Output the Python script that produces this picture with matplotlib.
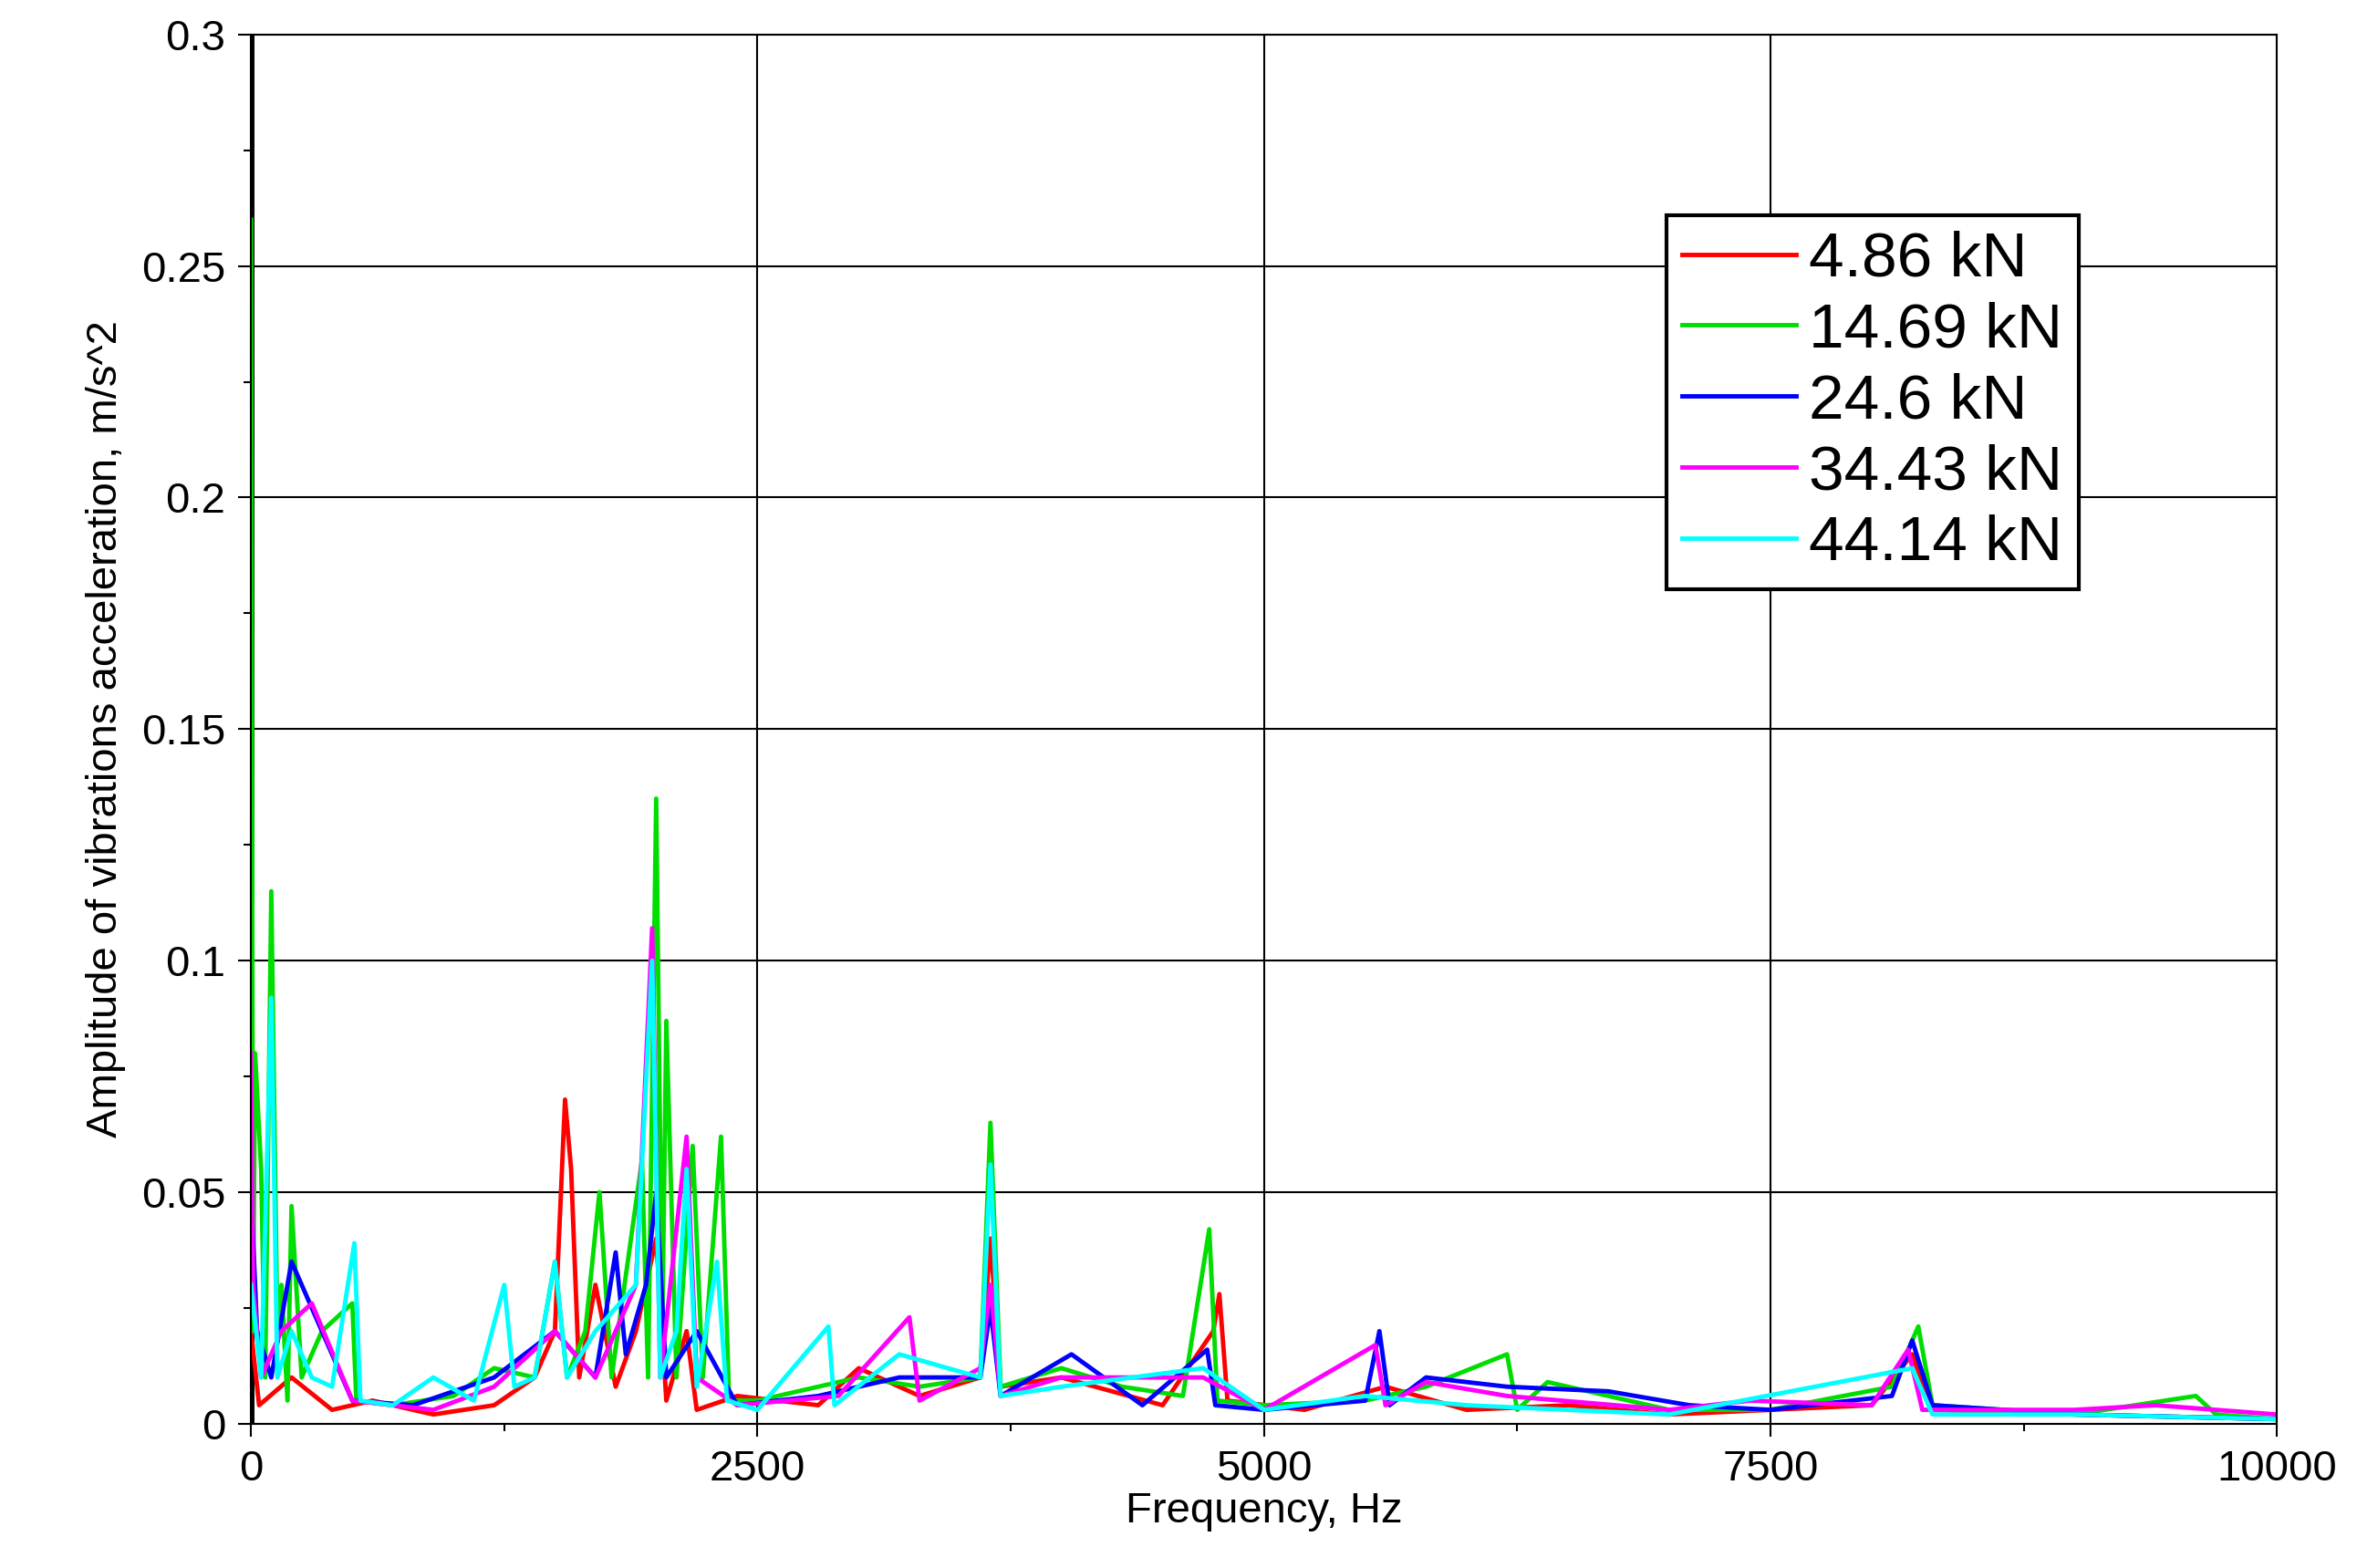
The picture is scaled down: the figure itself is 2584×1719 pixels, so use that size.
import numpy as np
import matplotlib.pyplot as plt
from matplotlib.ticker import MultipleLocator

plt.rcParams['font.family'] = ['Liberation Sans', 'DejaVu Sans']

# spectra (frequency Hz, amplitude m/s^2)
f_red = [0, 40, 200, 400, 600, 900, 1200, 1400, 1500, 1550, 1580, 1620, 1700, 1800, 1900, 2000, 2050, 2150, 2200, 2400,
         2800, 3000, 3300, 3600, 3650, 3700, 4000, 4500, 4750, 4780, 4820, 5200, 5600, 6000, 6500, 7000, 7500, 8000, 8200, 8300, 9000, 10000]
a_red = [0.02, 0.004, 0.01, 0.003, 0.005, 0.002, 0.004, 0.01, 0.02, 0.07, 0.055, 0.01, 0.03, 0.008, 0.02, 0.04, 0.005, 0.02, 0.003, 0.006,
         0.004, 0.012, 0.006, 0.01, 0.04, 0.008, 0.01, 0.004, 0.02, 0.028, 0.005, 0.003, 0.008, 0.003, 0.004, 0.002, 0.003, 0.004, 0.015, 0.003, 0.002, 0.001]

f_green = [0, 10, 20, 50, 70, 100, 130, 150, 180, 200, 250, 350, 500, 520, 700, 1000, 1200, 1400, 1500, 1560, 1650, 1720, 1780, 1930, 1960, 2000,
           2030, 2050, 2100, 2180, 2230, 2320, 2360, 2500, 3000, 3300, 3600, 3650, 3700, 4000, 4300, 4600, 4730, 4770, 5000, 5500, 5800, 6200, 6250,
           6400, 7000, 7500, 8100, 8230, 8300, 9000, 9600, 9700, 10000]
a_green = [0.26, 0.02, 0.08, 0.055, 0.01, 0.115, 0.02, 0.03, 0.005, 0.047, 0.01, 0.02, 0.026, 0.005, 0.004, 0.006, 0.012, 0.01, 0.035, 0.01, 0.02, 0.05, 0.01, 0.057, 0.01, 0.135,
            0.02, 0.087, 0.01, 0.06, 0.01, 0.062, 0.005, 0.005, 0.01, 0.008, 0.01, 0.065, 0.008, 0.012, 0.008, 0.006, 0.042, 0.005, 0.004, 0.005, 0.008, 0.015, 0.003,
            0.009, 0.003, 0.003, 0.008, 0.021, 0.004, 0.002, 0.006, 0.002, 0.001]

f_blue = [0, 30, 100, 200, 500, 800, 1200, 1500, 1700, 1800, 1850, 1950, 2000, 2050, 2200, 2400, 2800, 3200, 3600, 3650, 3700, 4050, 4400,
          4720, 4760, 5000, 5500, 5570, 5620, 5800, 6200, 6700, 7100, 7500, 8100, 8200, 8300, 9000, 10000]
a_blue = [0.05, 0.02, 0.01, 0.035, 0.005, 0.004, 0.01, 0.02, 0.01, 0.037, 0.015, 0.03, 0.05, 0.01, 0.02, 0.004, 0.006, 0.01, 0.01, 0.025, 0.006, 0.015, 0.004,
          0.016, 0.004, 0.003, 0.005, 0.02, 0.004, 0.01, 0.008, 0.007, 0.004, 0.003, 0.006, 0.018, 0.004, 0.002, 0.001]

f_mag = [0, 10, 50, 150, 300, 500, 900, 1200, 1500, 1700, 1900, 1980, 2020, 2150, 2200, 2400, 2900, 3250, 3300, 3600, 3650, 3700, 4000,
         4700, 5000, 5550, 5600, 5800, 6200, 7000, 7400, 8000, 8180, 8250, 9000, 9400, 10000]
a_mag = [0.08, 0.03, 0.01, 0.02, 0.026, 0.005, 0.003, 0.008, 0.02, 0.01, 0.03, 0.107, 0.01, 0.062, 0.01, 0.004, 0.006, 0.023, 0.005, 0.012, 0.03, 0.006, 0.01,
         0.01, 0.003, 0.017, 0.004, 0.009, 0.006, 0.003, 0.005, 0.004, 0.016, 0.003, 0.003, 0.004, 0.002]

f_cyan = [0, 50, 100, 130, 200, 300, 400, 510, 540, 700, 900, 1100, 1250, 1300, 1400, 1500, 1560, 1700, 1800, 1900, 1980, 2020, 2100, 2150,
          2200, 2300, 2350, 2500, 2850, 2880, 3200, 3600, 3650, 3700, 4000, 4700, 5000, 5500, 6000, 7000, 8200, 8300, 9000, 10000]
a_cyan = [0.03, 0.01, 0.092, 0.01, 0.02, 0.01, 0.008, 0.039, 0.005, 0.004, 0.01, 0.005, 0.03, 0.008, 0.01, 0.035, 0.01, 0.02, 0.025, 0.03, 0.1, 0.01, 0.02, 0.055,
          0.008, 0.035, 0.005, 0.003, 0.021, 0.004, 0.015, 0.01, 0.056, 0.006, 0.008, 0.012, 0.003, 0.006, 0.004, 0.002, 0.012, 0.002, 0.002, 0.001]

series = [(f_red, a_red, 'red', '4.86 kN'),
          (f_green, a_green, '#00dd00', '14.69 kN'),
          (f_blue, a_blue, 'blue', '24.6 kN'),
          (f_mag, a_mag, 'magenta', '34.43 kN'),
          (f_cyan, a_cyan, 'cyan', '44.14 kN')]

fig = plt.figure(figsize=(25.84, 17.19), dpi=100)
ax = fig.add_axes([0.1065, 0.092, 0.8595, 0.886])

ax.plot([0, 0], [0, 0.3], color='black', lw=5, zorder=1)
for f, a, c, lab in series:
    ax.plot(f, a, color=c, lw=3.5, label=lab, zorder=2)

ax.set_xlim(0, 10000)
ax.set_ylim(0, 0.3)
ax.xaxis.set_major_locator(MultipleLocator(2500))
ax.xaxis.set_minor_locator(MultipleLocator(1250))
ax.yaxis.set_minor_locator(MultipleLocator(0.025))
ax.set_yticks([0, 0.05, 0.1, 0.15, 0.2, 0.25, 0.3])
ax.set_yticklabels(['0', '0.05', '0.1', '0.15', '0.2', '0.25', '0.3'])
ax.grid(True, which='major', color='black', lw=1.5)
ax.tick_params(which='major', labelsize=34, length=10, width=1.5, pad=10)
ax.tick_params(which='minor', length=6, width=1.5)
for s in ax.spines.values():
    s.set_linewidth(1.5)
ax.set_xlabel('Frequency, Hz', fontsize=34, labelpad=2)
ax.set_ylabel('Amplitude of vibrations acceleration, m/s^2', fontsize=34, labelpad=12)

leg = ax.legend(loc='upper left', bbox_to_anchor=(0.683, 0.893), fontsize=50,
                fancybox=False, framealpha=1, edgecolor='black',
                handlelength=1.8, handletextpad=0.2, borderpad=0.25, labelspacing=0.2)
leg.get_frame().set_linewidth(3)

fig.savefig('out.png', dpi=100)
